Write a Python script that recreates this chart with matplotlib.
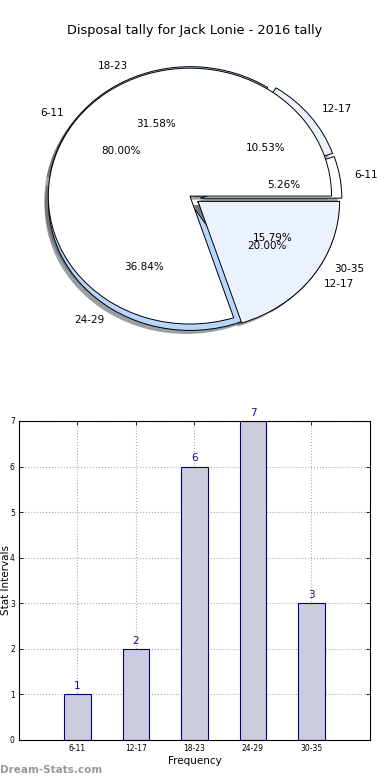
import matplotlib
matplotlib.use("Agg")
import matplotlib.pyplot as plt

# ---- data ----
title = "Disposal tally for Jack Lonie - 2016 tally"
categories = ["6-11", "12-17", "18-23", "24-29", "30-35"]
counts = [1, 2, 6, 7, 3]
pie1_colors = ["#ffffff", "#ebf1fd", "#b8d5fb", "#b8d5fb", "#ebf1fd"]
pie1_explode = [0.055, 0.055, 0.04, 0.03, 0.04]

pie2_labels = ["6-11", "12-17"]
pie2_values = [80, 20]
pie2_colors = ["#ffffff", "#ebf1fd"]
pie2_explode = [0.0, 0.07]

bar_color = "#ccccdf"
bar_edge = "#000080"

fig = plt.figure(figsize=(3.9, 7.8), dpi=100)
fig.patch.set_facecolor("white")

# ---- pie ----
ax1 = fig.add_axes([0.033, 0.5436, 0.908, 0.410])
wp = {"edgecolor": "black", "linewidth": 0.7}
tp = {"fontsize": 7.5, "color": "black"}
shd = {"ox": -0.02, "oy": -0.02, "linewidth": 0}
ax1.pie(counts, labels=categories, colors=pie1_colors, explode=pie1_explode,
        autopct="%1.2f%%", shadow=shd, startangle=0, wedgeprops=wp,
        textprops=tp, center=(0.018, -0.025))
ax1.pie(pie2_values, labels=pie2_labels, colors=pie2_colors, explode=pie2_explode,
        autopct="%1.2f%%", shadow=shd, startangle=0, wedgeprops=wp,
        textprops=tp)
ax1.set_aspect("auto")
ax1.set_xlim(-1.25, 1.25)
ax1.set_ylim(-1.25, 1.25)
ax1.axis("off")
fig.text(0.5, 0.961, title, ha="center", va="center", fontsize=9.3)

# ---- bars ----
ax2 = fig.add_axes([0.0487, 0.0513, 0.9, 0.409])
x = list(range(len(categories)))
ax2.bar(x, counts, width=0.45, color=bar_color, edgecolor=bar_edge, linewidth=0.8, zorder=2)
for xi, v in zip(x, counts):
    ax2.text(xi, v + 0.07, str(v), ha="center", va="bottom", fontsize=7.5, color="#10108a")
ax2.set_xlim(-1, 5)
ax2.set_ylim(0, 7)
ax2.set_xticks(x)
ax2.set_xticklabels(categories, fontsize=5.5)
ax2.set_yticks(range(0, 8))
ax2.tick_params(axis="y", labelsize=5.5)
ax2.tick_params(direction="in", top=True, right=True, length=3, width=0.6, pad=3)
ax2.grid(True, linestyle=":", color="#aaaaaa", linewidth=0.8, zorder=0)
ax2.set_axisbelow(True)
for s in ax2.spines.values():
    s.set_linewidth(0.8)
ax2.set_xlabel("Frequency", fontsize=7.5, labelpad=2)
ax2.set_ylabel("Stat Intervals", fontsize=7.5)
ax2.yaxis.set_label_coords(-0.022, 0.5)

fig.text(0.0, 0.0128, "Dream-Stats.com", ha="left", va="center", fontsize=7.5,
         color="#999999", fontweight="bold")

fig.savefig("out.png", dpi=100, facecolor="white")
